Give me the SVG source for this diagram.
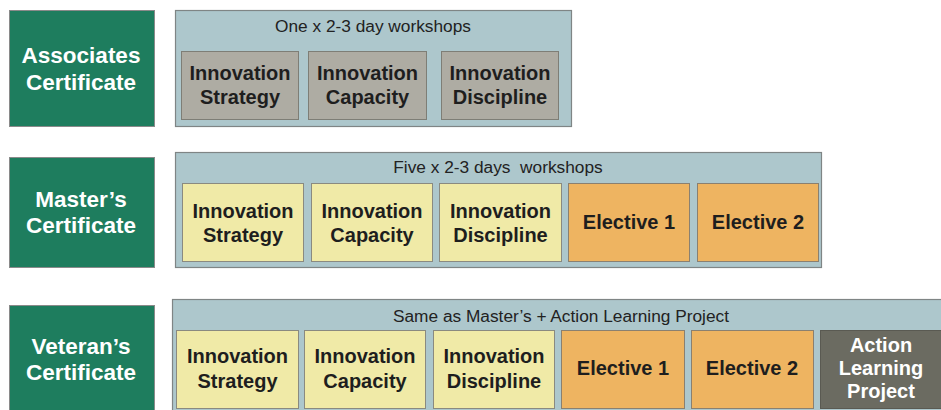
<svg xmlns="http://www.w3.org/2000/svg" width="941" height="410" viewBox="0 0 941 410">
<style>
.cert{fill:#1e7d5e;stroke:#8a8a8a;stroke-width:1}
.cont{fill:#adc7cc;stroke:#7f8585;stroke-width:1.2}
.g{fill:#aeaca3;stroke:#7e7e76;stroke-width:1}
.y{fill:#f0eaa7;stroke:#8a8a80;stroke-width:1}
.o{fill:#eeb461;stroke:#8a8070;stroke-width:1}
.d{fill:#6b6b61;stroke:#5a5a52;stroke-width:1}
text{font-family:"Liberation Sans",Arial,sans-serif;text-anchor:middle}
.ct{font-size:22.5px;font-weight:bold;fill:#ffffff}
.bt{font-size:20px;font-weight:bold;fill:#1e1e1e}
.wt{font-size:20px;font-weight:bold;fill:#ffffff}
.tt{font-size:17.3px;fill:#222222;white-space:pre}
</style>
<g id="associates">
<rect class="cert" x="9.5" y="10.5" width="145" height="116"/>
<text class="ct" x="81" y="63">Associates</text>
<text class="ct" x="81" y="90">Certificate</text>
</g>
<g id="associates-program">
<rect class="cont" x="175.5" y="10.5" width="396" height="116"/>
<text class="tt" x="373" y="32">One x 2-3 day workshops</text>
</g>
<g id="a-strategy"><rect class="g" x="181.5" y="51.5" width="117" height="68"/><text class="bt" x="240" y="80">Innovation</text><text class="bt" x="240" y="104">Strategy</text></g>
<g id="a-capacity"><rect class="g" x="308.5" y="51.5" width="118" height="68"/><text class="bt" x="367.5" y="80">Innovation</text><text class="bt" x="367.5" y="104">Capacity</text></g>
<g id="a-discipline"><rect class="g" x="441.5" y="51.5" width="117" height="68"/><text class="bt" x="500" y="80">Innovation</text><text class="bt" x="500" y="104">Discipline</text></g>

<g id="masters">
<rect class="cert" x="9.5" y="157.5" width="145" height="110"/>
<text class="ct" x="81" y="207">Master’s</text>
<text class="ct" x="81" y="233">Certificate</text>
</g>
<g id="masters-program">
<rect class="cont" x="175.5" y="152.5" width="646" height="115"/>
<text class="tt" x="498" y="173" xml:space="preserve">Five x 2-3 days  workshops</text>
</g>
<g id="m-strategy"><rect class="y" x="182.5" y="183.5" width="121" height="78"/><text class="bt" x="243" y="218">Innovation</text><text class="bt" x="243" y="242">Strategy</text></g>
<g id="m-capacity"><rect class="y" x="311.5" y="183.5" width="121" height="78"/><text class="bt" x="372" y="218">Innovation</text><text class="bt" x="372" y="242">Capacity</text></g>
<g id="m-discipline"><rect class="y" x="439.5" y="183.5" width="122" height="78"/><text class="bt" x="500.5" y="218">Innovation</text><text class="bt" x="500.5" y="242">Discipline</text></g>
<g id="m-elective1"><rect class="o" x="568.5" y="183.5" width="121" height="78"/><text class="bt" x="629" y="229">Elective 1</text></g>
<g id="m-elective2"><rect class="o" x="697.5" y="183.5" width="121" height="78"/><text class="bt" x="758" y="229">Elective 2</text></g>

<g id="veterans">
<rect class="cert" x="9.5" y="305.5" width="145" height="110"/>
<text class="ct" x="81" y="354">Veteran’s</text>
<text class="ct" x="81" y="380">Certificate</text>
</g>
<g id="veterans-program">
<rect class="cont" x="172.5" y="299.5" width="780" height="120"/>
<text class="tt" x="561" y="322">Same as Master’s + Action Learning Project</text>
</g>
<g id="v-strategy"><rect class="y" x="176.5" y="330.5" width="122" height="78"/><text class="bt" x="237.5" y="363">Innovation</text><text class="bt" x="237.5" y="388">Strategy</text></g>
<g id="v-capacity"><rect class="y" x="304.5" y="330.5" width="121" height="78"/><text class="bt" x="365" y="363">Innovation</text><text class="bt" x="365" y="388">Capacity</text></g>
<g id="v-discipline"><rect class="y" x="433.5" y="330.5" width="121" height="78"/><text class="bt" x="494" y="363">Innovation</text><text class="bt" x="494" y="388">Discipline</text></g>
<g id="v-elective1"><rect class="o" x="561.5" y="330.5" width="123" height="78"/><text class="bt" x="623" y="375">Elective 1</text></g>
<g id="v-elective2"><rect class="o" x="691.5" y="330.5" width="122" height="78"/><text class="bt" x="752" y="375">Elective 2</text></g>
<g id="v-action"><rect class="d" x="820.5" y="330.5" width="130" height="78"/><text class="wt" x="881" y="352">Action</text><text class="wt" x="881" y="375">Learning</text><text class="wt" x="881" y="398">Project</text></g>
<g id="connectors"/>
</svg>
